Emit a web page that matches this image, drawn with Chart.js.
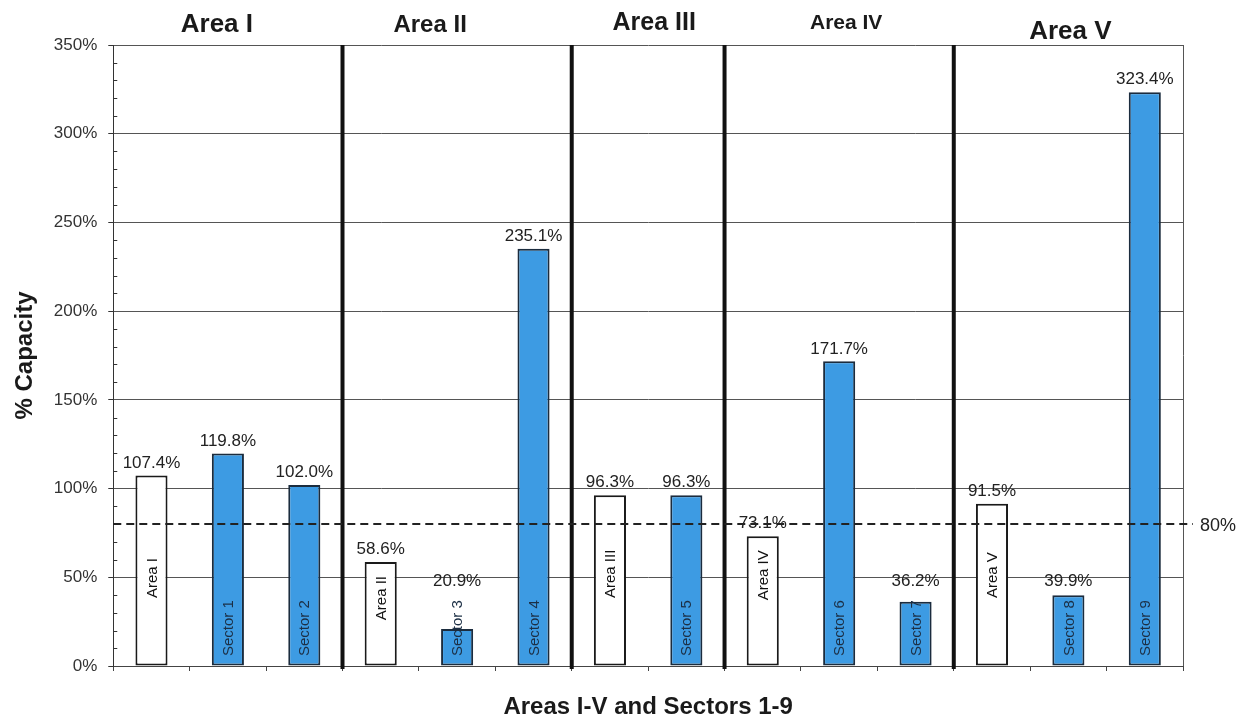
<!DOCTYPE html>
<html>
<head>
    <title>% Capacity by Area and Sector</title>
    <script src="https://cdn.jsdelivr.net/npm/chart.js@4.4.0/dist/chart.umd.min.js"></script>
    <style>
        html, body {
            margin: 0;
            padding: 0;
            background-color: #ffffff;
        }
        .chart-container {
            width: 1247px;
            height: 717px;
        }
    </style>
</head>
<body>
    <div class="chart-container">
        <canvas id="capacityChart"></canvas>
    </div>

    <script>
        // Bars, in order along the x axis
        const barNames = ['Area I', 'Sector 1', 'Sector 2', 'Area II', 'Sector 3', 'Sector 4', 'Area III',
                          'Sector 5', 'Area IV', 'Sector 6', 'Sector 7', 'Area V', 'Sector 8', 'Sector 9'];
        const capacity = [107.4, 119.8, 102.0, 58.6, 20.9, 235.1, 96.3, 96.3, 73.1, 171.7, 36.2, 91.5, 39.9, 323.4];

        // Area groups: heading and index of the first bar in each
        const areaTitles = ['Area I', 'Area II', 'Area III', 'Area IV', 'Area V'];
        const areaStarts = [0, 3, 6, 8, 11];

        const yTicks = [0, 50, 100, 150, 200, 250, 300, 350];
        const threshold = 80;
        const xTitle = 'Areas I-V and Sectors 1-9';

        // the headings in the original are a bit uneven in size and placement
        const titleSizes = [26, 24, 25, 21, 26];
        const titleNudgeX = [-11, -27, 6, 7, 2];
        const titleNudgeY = [0, 0, -2, -2, 7];

        const FONT = "'Liberation Sans', Arial, sans-serif";
        const isArea = name => name.startsWith('Area');

        const overlayPlugin = {
            id: 'overlay',
            afterDatasetsDraw(chart) {
                const ctx = chart.ctx;
                const x = chart.scales.x;
                const y = chart.scales.y;
                const area = chart.chartArea;
                const meta = chart.getDatasetMeta(0);
                const half = (x.getPixelForValue(1) - x.getPixelForValue(0)) / 2;

                ctx.save();

                // right border of plot
                ctx.strokeStyle = '#555';
                ctx.lineWidth = 1;
                ctx.beginPath();
                ctx.moveTo(Math.round(area.right) + 0.5, area.top);
                ctx.lineTo(Math.round(area.right) + 0.5, area.bottom);
                ctx.stroke();

                // minor ticks on y axis every 10%
                ctx.strokeStyle = '#333';
                for (let v = 10; v < 350; v += 10) {
                    if (v % 50 === 0) continue;
                    const py = Math.round(y.getPixelForValue(v)) + 0.5;
                    ctx.beginPath();
                    ctx.moveTo(area.left, py);
                    ctx.lineTo(area.left + 4, py);
                    ctx.stroke();
                }

                // heavy separators between areas
                ctx.strokeStyle = '#111';
                ctx.lineWidth = 4;
                areaStarts.slice(1).forEach(i => {
                    const px = x.getPixelForValue(i) - half;
                    ctx.beginPath();
                    ctx.moveTo(px, area.top);
                    ctx.lineTo(px, area.bottom + 3);
                    ctx.stroke();
                });

                // 80% dashed line
                const ty = y.getPixelForValue(threshold);
                ctx.strokeStyle = '#222';
                ctx.lineWidth = 2;
                ctx.setLineDash([8, 5]);
                ctx.beginPath();
                ctx.moveTo(area.left, ty);
                ctx.lineTo(area.right + 10, ty);
                ctx.stroke();
                ctx.setLineDash([]);
                ctx.fillStyle = '#222';
                ctx.font = '18px ' + FONT;
                ctx.textAlign = 'left';
                ctx.textBaseline = 'middle';
                ctx.fillText(threshold + '%', area.right + 17, ty + 2);

                // rotated names inside bars; remember where each name ends
                ctx.font = '15px ' + FONT;
                ctx.textAlign = 'left';
                ctx.textBaseline = 'middle';
                const nameTops = [];
                meta.data.forEach((bar, i) => {
                    const name = barNames[i];
                    const w = ctx.measureText(name).width;
                    const start = isArea(name)
                        ? Math.max(area.bottom - 68, bar.y + w + 14)
                        : area.bottom - 10;
                    nameTops.push(start - w);
                    ctx.save();
                    ctx.translate(bar.x, start);
                    ctx.rotate(-Math.PI / 2);
                    ctx.fillStyle = isArea(name) ? '#111' : '#1c2f45';
                    ctx.fillText(name, 0, 1);
                    ctx.restore();
                });

                // value labels above bars (and above any name that pokes out)
                ctx.fillStyle = '#222';
                ctx.font = '17px ' + FONT;
                ctx.textAlign = 'center';
                ctx.textBaseline = 'bottom';
                meta.data.forEach((bar, i) => {
                    const ly = Math.min(bar.y - 4, nameTops[i] - 10);
                    ctx.fillText(capacity[i].toFixed(1) + '%', bar.x, ly);
                });

                // area headings
                ctx.fillStyle = '#1a1a1a';
                ctx.textAlign = 'center';
                ctx.textBaseline = 'middle';
                areaTitles.forEach((t, k) => {
                    const first = areaStarts[k];
                    const last = k + 1 < areaStarts.length ? areaStarts[k + 1] - 1 : barNames.length - 1;
                    const cx = (x.getPixelForValue(first) + x.getPixelForValue(last)) / 2;
                    ctx.font = 'bold ' + titleSizes[k] + 'px ' + FONT;
                    ctx.fillText(t, cx + titleNudgeX[k], area.top - 20 + titleNudgeY[k]);
                });

                // x axis title
                ctx.font = 'bold 24px ' + FONT;
                ctx.fillText(xTitle, (area.left + area.right) / 2, area.bottom + 41);

                ctx.restore();
            }
        };

        const ctx = document.getElementById('capacityChart').getContext('2d');
        Chart.defaults.font.family = FONT;
        Chart.defaults.color = '#333';

        new Chart(ctx, {
            type: 'bar',
            data: {
                labels: barNames,
                datasets: [{
                    data: capacity,
                    backgroundColor: barNames.map(n => isArea(n) ? '#ffffff' : '#3d9be3'),
                    borderColor: barNames.map(n => isArea(n) ? '#1a1a1a' : '#1b2c3e'),
                    borderWidth: 2,
                    borderSkipped: false,
                    barPercentage: 0.42,
                    categoryPercentage: 1.0
                }]
            },
            options: {
                responsive: true,
                maintainAspectRatio: false,
                animation: false,
                layout: {
                    padding: { top: 45, right: 64, left: 0, bottom: 46 }
                },
                plugins: {
                    legend: { display: false },
                    tooltip: { enabled: false }
                },
                scales: {
                    x: {
                        border: { display: true, color: '#444', width: 1 },
                        grid: {
                            display: true,
                            drawOnChartArea: false,
                            drawTicks: true,
                            tickLength: 5,
                            color: '#444',
                            offset: true
                        },
                        ticks: {
                            display: false
                        }
                    },
                    y: {
                        min: 0,
                        max: 350,
                        afterBuildTicks: axis => {
                            axis.ticks = yTicks.map(v => ({ value: v }));
                        },
                        border: { display: true, color: '#333', width: 1 },
                        grid: {
                            color: '#555',
                            lineWidth: 1,
                            drawTicks: true,
                            tickLength: 5,
                            tickColor: '#333'
                        },
                        ticks: {
                            callback: v => v + '%',
                            font: { size: 17 },
                            color: '#333',
                            padding: 11
                        },
                        title: {
                            display: true,
                            text: '% Capacity',
                            font: { size: 24, weight: 'bold' },
                            color: '#1a1a1a',
                            padding: { top: 11, bottom: 3 }
                        }
                    }
                }
            },
            plugins: [overlayPlugin]
        });
    </script>
</body>
</html>
